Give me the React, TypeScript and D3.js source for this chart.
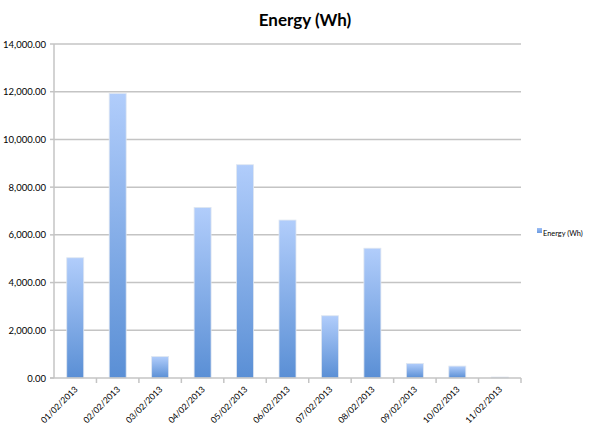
import React from "react";
import * as d3 from "d3";

const categories = [
  "01/02/2013", "02/02/2013", "03/02/2013", "04/02/2013", "05/02/2013", "06/02/2013",
  "07/02/2013", "08/02/2013", "09/02/2013", "10/02/2013", "11/02/2013",
];
const energyValues = [5040, 11930, 900, 7150, 8940, 6620, 2610, 5440, 610, 500, 40];
const yTicks = [0, 2000, 4000, 6000, 8000, 10000, 12000, 14000];
const seriesName = "Energy (Wh)";
const chartTitle = "Energy (Wh)";

const W = 609;
const H = 432;
const left = 54;
const right = 521;
const top = 44;
const bottom = 378;
const font = "Lato, 'Open Sans', sans-serif";

export default function App() {
  const x = d3.scaleBand<string>().domain(categories).range([left, right]).paddingInner(0.6).paddingOuter(0.3);
  const xb = d3.scaleBand<string>().domain(categories).range([left, right]);
  const y = d3.scaleLinear().domain([0, 14000]).range([bottom, top]);
  const fmt = d3.format(",.2f");
  const gridColor = "#c4c4c4";
  return (
    <svg width={W} height={H} style={{ position: "absolute", left: 0, top: 0, background: "#fff" }} fontFamily={font}>
      <defs>
        <linearGradient id="barGrad" x1="0" y1="0" x2="0" y2="1">
          <stop offset="0" stopColor="#b1cdfb" />
          <stop offset="1" stopColor="#5a8fd5" />
        </linearGradient>
        <linearGradient id="legGrad" x1="0" y1="0" x2="0" y2="1">
          <stop offset="0" stopColor="#9dbef5" />
          <stop offset="1" stopColor="#6a9ae0" />
        </linearGradient>
      </defs>
      <text x={305} y={26} textAnchor="middle" fontSize={17} fontWeight="bold" fill="#000">{chartTitle}</text>
      {yTicks.map((t) => (
        <g key={t}>
          {t > 0 && <line x1={left} x2={right} y1={y(t)} y2={y(t)} stroke={gridColor} strokeWidth={1.5} />}
          <line x1={left - 4} x2={left} y1={y(t)} y2={y(t)} stroke={gridColor} strokeWidth={1.5} />
          <text x={left - 8} y={y(t) + 3.5} textAnchor="end" fontSize={9.5} fill="#000">{fmt(t)}</text>
        </g>
      ))}
      {categories.map((c, i) => (
        <rect key={c} x={x(c)} y={y(energyValues[i])} width={x.bandwidth()} height={bottom - y(energyValues[i])}
          fill="url(#barGrad)" stroke="#dfe6f1" strokeWidth={0.8} />
      ))}
      <line x1={left} x2={left} y1={top} y2={bottom} stroke={gridColor} strokeWidth={1.5} />
      <line x1={left - 4} x2={right} y1={bottom} y2={bottom} stroke={gridColor} strokeWidth={1.5} />
      {categories.map((c, i) => (
        <line key={"t" + c} x1={left + xb.bandwidth() * (i + 1)} x2={left + xb.bandwidth() * (i + 1)} y1={bottom} y2={bottom + 5} stroke={gridColor} strokeWidth={1.5} />
      ))}
      {categories.map((c) => {
        const cx = (xb(c) as number) + xb.bandwidth() / 2 + 3;
        const cy = bottom + 12;
        return (
          <text key={"l" + c} x={cx} y={cy} textAnchor="end" fontSize={8.6} fill="#000"
            transform={`rotate(-45, ${cx}, ${cy})`}>{c}</text>
        );
      })}
      <rect x={537} y={228} width={5} height={5} fill="url(#legGrad)" />
      <text x={543} y={235.5} fontSize={7.4} fill="#000">{seriesName}</text>
    </svg>
  );
}
